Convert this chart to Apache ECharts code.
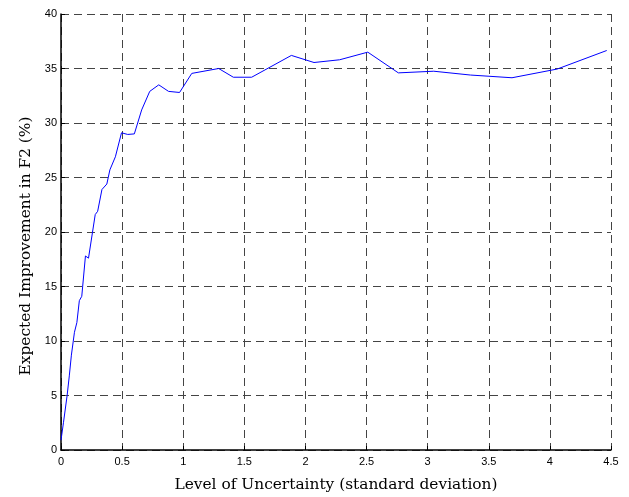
<!DOCTYPE html>
<html><head><meta charset="utf-8">
<script src="https://cdn.jsdelivr.net/npm/echarts@6/dist/echarts.min.js"></script>
<style>html,body{margin:0;padding:0;background:#fff}#c{width:629px;height:497px}</style>
</head><body><div id="c"></div>
<script>
const xValues = [0, 0.008, 0.02, 0.05, 0.068, 0.085, 0.095, 0.11, 0.13, 0.15, 0.17, 0.2, 0.225, 0.28, 0.30, 0.335, 0.375, 0.40, 0.445, 0.495, 0.546, 0.60, 0.66, 0.726, 0.80, 0.88, 0.97, 1.07, 1.29, 1.41, 1.56, 1.885, 2.07, 2.28, 2.51, 2.76, 3.05, 3.35, 3.69, 4.06, 4.465];
const yValues = [0.9, 1.0, 2.5, 5.0, 6.8, 8.7, 8.7, 10.8, 11.7, 13.7, 14.1, 17.8, 17.6, 21.6, 21.9, 23.9, 24.4, 25.7, 26.9, 29.1, 28.95, 29.0, 31.2, 32.9, 33.5, 32.9, 32.8, 34.55, 35.0, 34.2, 34.2, 36.2, 35.55, 35.8, 36.5, 34.6, 34.75, 34.4, 34.15, 34.95, 36.65];
const xTitle = 'Level of Uncertainty (standard deviation)';
const yTitle = 'Expected Improvement in F2 (%)';

const chart = echarts.init(document.getElementById('c'), null, {renderer: 'canvas'});
const tickLbl = {color: '#000', fontFamily: 'Liberation Sans, Arial, sans-serif', fontSize: 11};
const gridLine = {show: true, lineStyle: {color: '#444', type: [8, 5], width: 1}};
const titleFont = {color: '#000', fontFamily: 'DejaVu Serif, Liberation Serif, serif', fontSize: 15.4};
chart.setOption({
  animation: false,
  backgroundColor: '#fff',
  grid: {left: 61, right: 18, top: 14, bottom: 47},
  xAxis: {
    type: 'value', min: 0, max: 4.5, interval: 0.5,
    name: xTitle, nameLocation: 'middle', nameGap: 27,
    nameTextStyle: titleFont,
    axisLine: {show: true, onZero: false, lineStyle: {color: '#000', width: 1.5}},
    axisTick: {show: true, inside: true, length: 4, lineStyle: {color: '#000'}},
    axisLabel: Object.assign({margin: 6}, tickLbl),
    splitLine: gridLine
  },
  yAxis: {
    type: 'value', min: 0, max: 40, interval: 5,
    name: yTitle, nameLocation: 'middle', nameGap: 27,
    nameTextStyle: Object.assign({padding: [0, 28, 0, 0]}, titleFont),
    axisLine: {show: true, onZero: false, lineStyle: {color: '#000', width: 1.5}},
    axisTick: {show: true, inside: true, length: 4, lineStyle: {color: '#000'}},
    axisLabel: Object.assign({margin: 4}, tickLbl),
    splitLine: gridLine
  },
  series: [{
    type: 'line',
    data: xValues.map((x, i) => [x, yValues[i]]),
    showSymbol: false,
    lineStyle: {color: '#0000ff', width: 1},
    itemStyle: {color: '#0000ff'}
  }]
});
</script></body></html>
